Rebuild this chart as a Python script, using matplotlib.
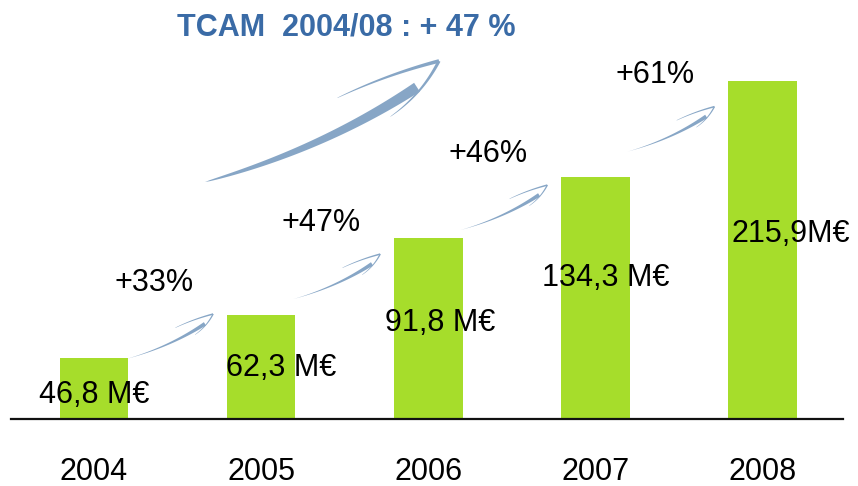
import matplotlib
matplotlib.use('Agg')
import matplotlib.pyplot as plt
import numpy as np
from matplotlib.patches import Polygon


years = ['2004', '2005', '2006', '2007', '2008']
# revenue as printed on the bars
value_labels = ['46,8 M€', '62,3 M€', '91,8 M€', '134,3 M€', '215,9M€']
# bar heights as drawn in the original (the slide is not to scale)
bar_heights = [39.0, 66.4, 115.6, 154.6, 215.9]
growth = ['+33%', '+47%', '+46%', '+61%']
title = 'TCAM  2004/08 : + 47 %'

W, H = 858, 486
GREEN = '#a6dd2b'
SWOOSH = '#87a6c6'
TITLE_BLUE = '#3a6ba6'

# pixel offsets of the value labels from the foot of each bar
label_offsets = [(0, 24), (20, 51), (12, 96), (10, 141), (28, 185)]

plt.rcParams['font.family'] = ['Liberation Sans', 'DejaVu Sans']


def bezier(p0, c, p1, n=50):
	t = np.linspace(0, 1, n)[:, None]
	return (1 - t) ** 2 * p0 + 2 * (1 - t) * t * c + t ** 2 * p1


# turn a centre line into a filled stroke of varying width
def taper(path, widths):
	d = np.gradient(path, axis=0)
	d /= np.linalg.norm(d, axis=1)[:, None]
	nrm = np.column_stack([-d[:, 1], d[:, 0]])
	left = path + nrm * widths[:, None] / 2
	right = path - nrm * widths[:, None] / 2
	return np.vstack([left, right[::-1]])


def rot(v, deg):
	a = np.radians(deg)
	return np.array([v[0] * np.cos(a) - v[1] * np.sin(a), v[0] * np.sin(a) + v[1] * np.cos(a)])


# curved "swoosh" arrow, tail and tip given in pixels with y pointing down
def swoosh(fig, tail, tip, power=1.2):
	tail = np.array(tail, float)
	tip = np.array(tip, float)
	d = tip - tail
	L = np.hypot(*d)
	u = d / L
	n = np.array([-u[1], u[0]])
	t = np.linspace(0, 1, 50)

	body = bezier(tail, tail + 0.45 * d + 0.095 * L * n, tail + 0.88 * d + 0.05 * L * n)
	shapes = [taper(body, 0.04 * L * t ** power)]

	b = rot(-u, 7.4)
	end = tip + 0.41 * L * b
	upper = bezier(tip, (tip + end) / 2 + 0.02 * L * np.array([-b[1], b[0]]), end)
	shapes.append(taper(upper, 0.013 * L * (1 - t) ** 0.8 + 0.3))

	b = rot(-u, -21.5)
	end = tip + 0.28 * L * b
	lower = bezier(tip, (tip + end) / 2 + 0.035 * L * np.array([b[1], -b[0]]), end)
	shapes.append(taper(lower, 0.011 * L * (1 - t) ** 0.8 + 0.3))

	for pts in shapes:
		xy = np.column_stack([pts[:, 0] / W, 1 - pts[:, 1] / H])
		fig.add_artist(Polygon(xy, closed=True, transform=fig.transFigure,
			facecolor=SWOOSH, edgecolor='none'))


def main():
	fig = plt.figure(figsize=(W / 100, H / 100), dpi=100)
	ax = fig.add_axes([11 / W, 67 / H, 832 / W, 399 / H])

	x = np.arange(len(years))
	width = 0.41
	ax.bar(x, bar_heights, width=width, color=GREEN, zorder=2)
	ax.set_xlim(-0.497, 4.482)
	ax.set_ylim(0, 255)

	for s in ['top', 'right', 'left']:
		ax.spines[s].set_visible(False)
	ax.spines['bottom'].set_linewidth(1.6)
	ax.spines['bottom'].set_color('#111111')
	ax.set_yticks([])
	ax.set_xticks(x, years, fontsize=22)
	ax.tick_params(axis='x', length=0, pad=27)

	for i, lbl in enumerate(value_labels):
		ax.annotate(lbl, xy=(x[i], 0), xytext=label_offsets[i], textcoords='offset pixels',
			ha='center', va='center', fontsize=22, zorder=3)

	# small arrows between consecutive bars, with the growth rate above each
	for i, g in enumerate(growth):
		rx, ry = ax.transData.transform((x[i] + width / 2, bar_heights[i]))
		lx, ly = ax.transData.transform((x[i + 1] - width / 2, bar_heights[i + 1]))
		mid = np.array([(rx + lx) / 2 - 8, H - (ry + ly) / 2])
		swoosh(fig, mid + np.array([-43.5, 22.5]), mid + np.array([43.5, -22.5]))
		fig.text((mid[0] - 16) / W, 1 - (mid[1] - 54) / H, g, fontsize=22,
			ha='center', va='center')

	# big arrow under the CAGR title
	swoosh(fig, (205, 182), (439, 61), power=0.6)
	fig.text(346 / W, 1 - 28 / H, title, fontsize=22, fontweight='bold',
		color=TITLE_BLUE, ha='center', va='center')

	fig.savefig('out.png', dpi=100)


if __name__ == '__main__':
	main()
